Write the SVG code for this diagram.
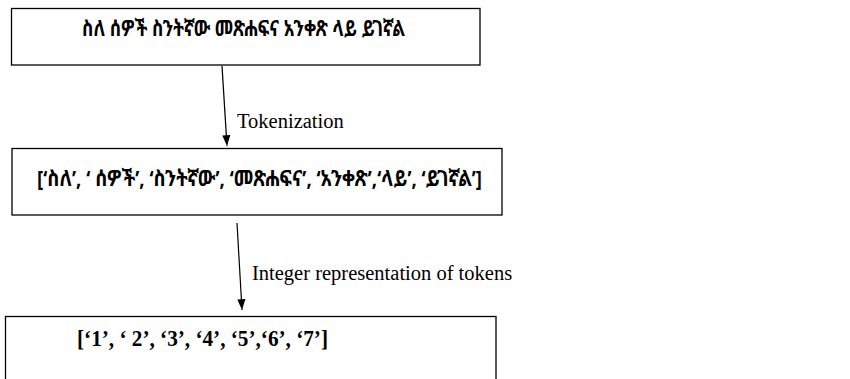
<svg xmlns="http://www.w3.org/2000/svg" width="850" height="379" viewBox="0 0 850 379">
  <defs>
    <marker id="arrow" viewBox="0 0 10 12" refX="12" refY="4.5" markerWidth="9" markerHeight="12" markerUnits="userSpaceOnUse" orient="auto">
      <path d="M0,0 L12,4.5 L0,9 Z" fill="#000"/>
    </marker>
  </defs>
  <style>
    .box { fill: #fff; stroke: #000; stroke-width: 1.3; }
    .eth { font-family: "Noto Sans Ethiopic", "Abyssinica SIL", "Nyala", "DejaVu Sans", "Noto Sans", sans-serif; font-weight: bold; fill: #000; }
    .num { font-family: "Liberation Serif", serif; font-weight: bold; font-size: 23px; fill: #000; }
    .lbl { font-family: "Liberation Serif", serif; font-size: 20.5px; fill: #000; }
    .conn { stroke: #000; stroke-width: 1.2; fill: none; }
  </style>
  <rect width="850" height="379" fill="#fff"/>

  <g id="sentence">
    <rect class="box" x="11.5" y="8.5" width="468.5" height="56.5"/>
    <text class="eth" x="82" y="36" font-size="22" textLength="323" lengthAdjust="spacingAndGlyphs">ስለ ሰዎች ስንትኛው መጽሐፍና አንቀጽ ላይ ይገኛል</text>
  </g>

  <g id="tokens">
    <rect class="box" x="12" y="148.5" width="490" height="66.5"/>
    <text class="eth" x="37" y="186" font-size="22" textLength="445" lengthAdjust="spacingAndGlyphs">[‘ስለ’, ‘ ሰዎች’, ‘ስንትኛው’, ‘መጽሐፍና’, ‘አንቀጽ’,‘ላይ’, ‘ይገኛል’]</text>
  </g>

  <g id="integers">
    <rect class="box" x="5.5" y="316.5" width="490.5" height="80"/>
    <text class="num" x="77" y="346" textLength="251" lengthAdjust="spacingAndGlyphs">[‘1’, ‘ 2’,  ‘3’,  ‘4’,  ‘5’,‘6’,  ‘7’]</text>
  </g>

  <g id="connectors">
    <line class="conn" x1="222" y1="66" x2="227" y2="146" marker-end="url(#arrow)"/>
    <text class="lbl" x="237" y="128">Tokenization</text>
    <line class="conn" x1="237" y1="223" x2="242" y2="310" marker-end="url(#arrow)"/>
    <text class="lbl" x="252" y="280">Integer representation of tokens</text>
  </g>
</svg>
